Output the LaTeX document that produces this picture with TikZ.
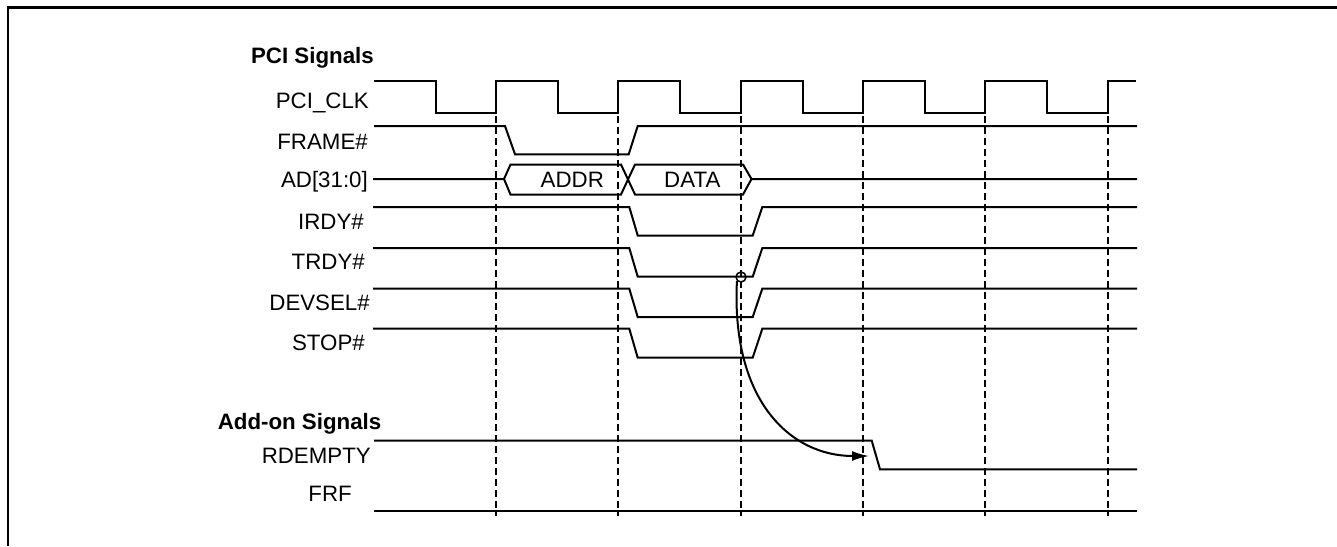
\documentclass[tikz,border=0pt]{standalone}
\usepackage{fontspec}
\setmainfont{Liberation Sans}
\usetikzlibrary{arrows.meta}
\begin{document}
\begin{tikzpicture}[x=1pt,y=-1pt,
  sig/.style={line width=2pt, line join=miter},
  gridline/.style={line width=2pt, dash pattern=on 7pt off 4pt},
  frameline/.style={line width=2.7pt},
  lbl/.style={anchor=base east, inner sep=0pt, font=\fontsize{22.3}{26}\selectfont},
  hdr/.style={anchor=base east, inner sep=0pt, font=\fontsize{22.3}{26}\selectfont\bfseries},
  bustext/.style={anchor=base, inner sep=0pt, font=\fontsize{22.3}{26}\selectfont},
  mark circle/.style={circle, draw, line width=1.5pt, minimum size=10pt, inner sep=0pt}]
\useasboundingbox (0,0) rectangle (1337,546);
% border
\draw[frameline] (8,546) -- (8,7.3) -- (1337,7.3);
% dashed clock markers
\foreach \x in {496,618.4,740.7,863,985.4,1107.8}
  \draw[gridline] (\x,116) -- (\x,516);
% headers and labels
\node[hdr] (hpci) at (374,63) {PCI Signals};
\node[lbl] (lclk) at (369,108.5) {PCI\_CLK};
\node[lbl] (lframe) at (368,149) {FRAME\#};
\node[lbl] (lad) at (368,187) {AD[31:0]};
\node[lbl] (lirdy) at (364,229.7) {IRDY\#};
\node[lbl] (ltrdy) at (365,269.7) {TRDY\#};
\node[lbl] (ldevsel) at (370,310.7) {DEVSEL\#};
\node[lbl] (lstop) at (365,350.7) {STOP\#};
\node[hdr] (haddon) at (381.5,429.7) {Add-on Signals};
\node[lbl] (lrdempty) at (371,463) {RDEMPTY};
\node[lbl] (lfrf) at (352,501.3) {FRF};
% clock
\draw[sig] (374,81) -| (435.6,113) -| (496,81) -| (558,113) -| (618.4,81)
  -| (680.3,113) -| (740.7,81) -| (802.7,113) -| (863,81) -| (925,113)
  -| (985.4,81) -| (1047.4,113) -| (1107.8,81) -- (1136,81);
% FRAME#
\draw[sig] (374,126) -- (505,126) -- (515,154.3) -- (628.7,154.3) -- (637.7,126) -- (1137,126);
% AD bus
\draw[sig] (373,179) -- (504,179) -- (510.5,164.5) -- (621,164.5) -- (635,194.5) -- (743,194.5) -- (751.5,179) -- (1137,179);
\draw[sig] (504,179) -- (510.5,194.5) -- (621,194.5) -- (635,164.5) -- (743,164.5) -- (751.5,179);
\node[bustext] (taddr) at (572.3,187) {ADDR};
\node[bustext] (tdata) at (692.3,187) {DATA};
% IRDY#, TRDY#, DEVSEL#, STOP#
\foreach \h/\l in {207/235.5, 248/276.7, 288.7/317, 328.7/357.7}
  \draw[sig] (373,\h) -- (629.3,\h) -- (637.7,\l) -- (752.7,\l) -- (762.3,\h) -- (1137,\h);
% RDEMPTY, FRF
\draw[sig] (374,440.7) -- (871.7,440.7) -- (880,469.3) -- (1137,469.3);
\draw[sig] (374,510.7) -- (1137,510.7);
% causality arrow
\node[mark circle] (c) at (741,277) {};
\coordinate (tip) at (869,456);
\draw[line width=2pt, -{Latex[length=17pt,width=10pt]}] (c.south west) .. controls (731,400) and (790,456) .. (tip);
\end{tikzpicture}
\end{document}
